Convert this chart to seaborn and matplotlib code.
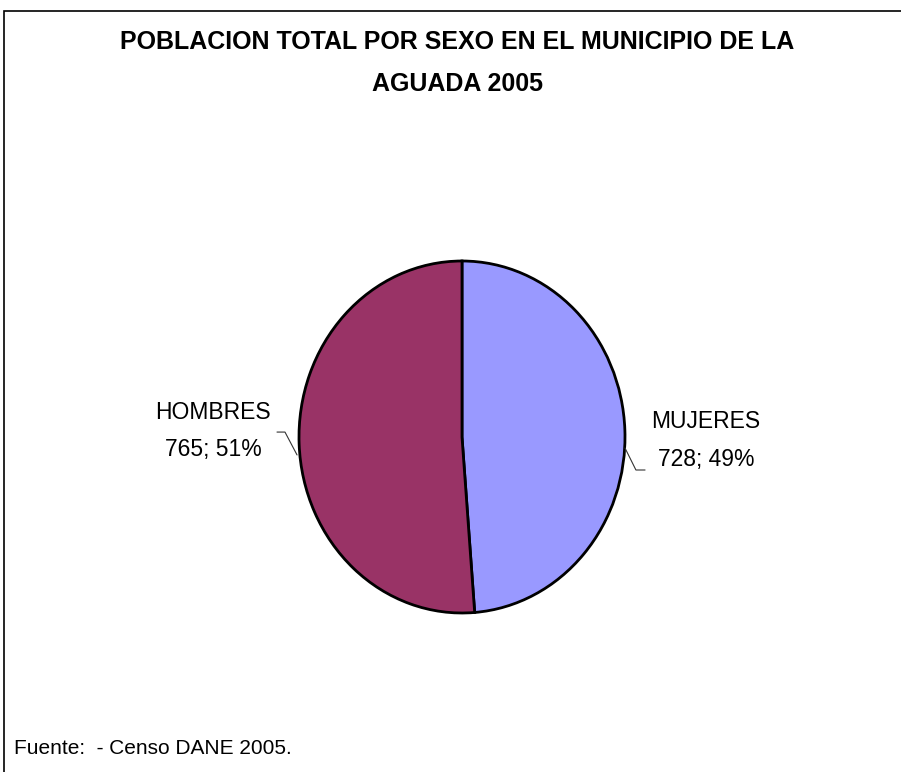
import matplotlib
matplotlib.use("Agg")
import matplotlib.pyplot as plt
import matplotlib.patches as mpatches
import seaborn as sns
import numpy as np

# data
categorias = ["MUJERES", "HOMBRES"]
poblacion = [728, 765]
colores = ["#9999FF", "#993366"]

titulo = "POBLACION TOTAL POR SEXO EN EL MUNICIPIO DE LA\nAGUADA 2005"
fuente = "Fuente:  - Censo DANE 2005."

sns.set_theme(style="white")
plt.rcParams["font.family"] = ["Liberation Sans", "DejaVu Sans"]
plt.rcParams["text.color"] = "black"

W, H = 901, 772
fig = plt.figure(figsize=(W / 100, H / 100), dpi=100)

# pie axes (slightly stretched vertically, like the original)
cx, cy, rx, ry = 462, 437, 163, 176
ax = fig.add_axes([(cx - rx) / W, (H - cy - ry) / H, 2 * rx / W, 2 * ry / H])
wedges, _ = ax.pie(poblacion, colors=colores, startangle=90, counterclock=False,
                   radius=1, wedgeprops=dict(edgecolor="black", linewidth=2))
ax.set_xlim(-1, 1)
ax.set_ylim(-1, 1)
ax.set_aspect("auto")
ax.axis("off")

total = sum(poblacion)
etiquetas = [f"{c}\n{v}; {round(v / total * 100)}%" for c, v in zip(categorias, poblacion)]

# label positions and leader lines (style only)
pos_texto = [(1.497, -0.02), (-1.528, 0.035)]
lideres = [[(1.0, -0.0625), (1.067, -0.1875), (1.123, -0.1875)],
           [(-1.012, -0.102), (-1.086, 0.028), (-1.135, 0.028)]]
for etq, (tx, ty), lid in zip(etiquetas, pos_texto, lideres):
    ax.text(tx, ty, etq, ha="center", va="center", fontsize=16.5,
            linespacing=1.78, color="black", clip_on=False)
    xs, ys = zip(*lid)
    ax.plot(xs, ys, color="#333333", linewidth=0.8, clip_on=False)

fig.text(457 / W, 1 - 63 / H, titulo, ha="center", va="center", fontsize=18,
         fontweight="bold", linespacing=1.95, color="black")
fig.text(14 / W, 1 - 748 / H, fuente, ha="left", va="center", fontsize=15,
         color="black")

# chart frame (only left and top edges are visible in the crop)
fig.add_artist(mpatches.Rectangle((4 / W, -0.1), 1.1, 1 - 11 / H + 0.1,
                                  transform=fig.transFigure, fill=False,
                                  edgecolor="black", linewidth=1.2))

fig.savefig("out.png", dpi=100)
